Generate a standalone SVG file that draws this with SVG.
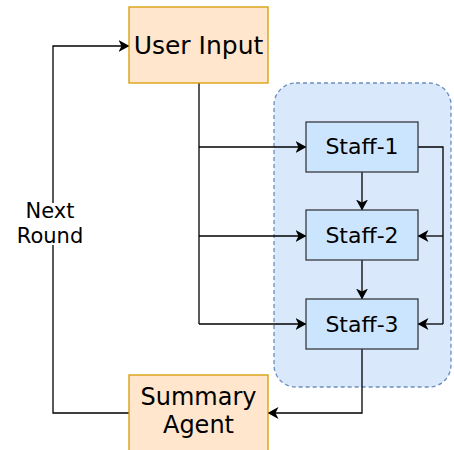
<svg xmlns="http://www.w3.org/2000/svg" width="454" height="450" viewBox="0 0 454 450">
  <style>
    .io { fill: #ffe6cc; stroke: #d79b00; stroke-width: 1.3; }
    .staff { fill: #cce5ff; stroke: #36393d; stroke-width: 1.3; }
    .group { fill: #dae8fc; stroke: #6c8ebf; stroke-width: 1.3; stroke-dasharray: 4 3; }
    .edge { fill: none; stroke: #000; stroke-width: 1.3; }
    .label { font-family: "DejaVu Sans", Verdana, sans-serif; fill: #000; text-anchor: middle; }
  </style>
  <defs>
    <marker id="arrow" viewBox="0 0 11 12" refX="10.5" refY="6" markerWidth="11" markerHeight="12" markerUnits="userSpaceOnUse" orient="auto">
      <path d="M0,0 L11,6 L0,12 L3,6 Z" fill="#000"/>
    </marker>
  </defs>

  <!-- staff container -->
  <rect id="staff-group" class="group" x="274" y="83" width="177" height="304" rx="22" ry="22"/>

  <g id="connectors">
    <!-- User Input fan-out to staff -->
    <path class="edge" d="M199,83 V324" />
    <path class="edge" d="M199,147 H306" marker-end="url(#arrow)"/>
    <path class="edge" d="M199,236 H306" marker-end="url(#arrow)"/>
    <path class="edge" d="M199,324 H306" marker-end="url(#arrow)"/>
    <!-- staff chain -->
    <path class="edge" d="M362,172 V210" marker-end="url(#arrow)"/>
    <path class="edge" d="M362,260 V299" marker-end="url(#arrow)"/>
    <!-- Staff-1 side bus -->
    <path class="edge" d="M418,147 H443 V324" />
    <path class="edge" d="M443,236 H418" marker-end="url(#arrow)"/>
    <path class="edge" d="M443,324 H418" marker-end="url(#arrow)"/>
    <!-- Staff-3 to summary -->
    <path class="edge" d="M362,349 V413 H268" marker-end="url(#arrow)"/>
    <!-- next round loop -->
    <path class="edge" d="M129,413 H53 V46 H129" marker-end="url(#arrow)"/>
  </g>

  <g id="next-round-label">
    <rect x="28" y="203" width="50" height="42" fill="#fff"/>
    <text class="label" x="50" y="218" font-size="21">Next</text>
    <text class="label" x="50" y="243" font-size="21">Round</text>
  </g>

  <g id="user-input">
    <rect class="io" x="129" y="7" width="139" height="76"/>
    <text class="label" x="198.5" y="54" font-size="25">User Input</text>
  </g>

  <g id="staff-1">
    <rect class="staff" x="306" y="122" width="112" height="50"/>
    <text class="label" x="362" y="154" font-size="22">Staff-1</text>
  </g>

  <g id="staff-2">
    <rect class="staff" x="306" y="210" width="112" height="50"/>
    <text class="label" x="362" y="243" font-size="22">Staff-2</text>
  </g>

  <g id="staff-3">
    <rect class="staff" x="306" y="299" width="112" height="50"/>
    <text class="label" x="362" y="332" font-size="22">Staff-3</text>
  </g>

  <g id="summary-agent">
    <rect class="io" x="129" y="375" width="139" height="80"/>
    <text class="label" x="198.5" y="405" font-size="24">Summary</text>
    <text class="label" x="198.5" y="433" font-size="24">Agent</text>
  </g>
</svg>
